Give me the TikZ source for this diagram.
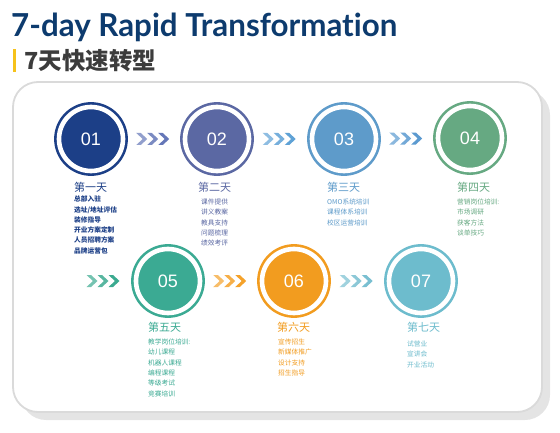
\documentclass[tikz,border=0pt]{standalone}
\usepackage{fontspec}
\setmainfont{Liberation Sans}
\newfontfamily\cjk{Noto Sans CJK SC}
\newfontfamily\titlefnt{Lato}[Ligatures={NoCommon,NoContextual}]
\usetikzlibrary{calc}
\definecolor{cA}{HTML}{1C3F87}
\definecolor{cB}{HTML}{5B68A3}
\definecolor{cC}{HTML}{5E9BCA}
\definecolor{cD}{HTML}{66A982}
\definecolor{cE}{HTML}{3BAA93}
\definecolor{cF}{HTML}{F29C1F}
\definecolor{cG}{HTML}{6DBCCD}
\definecolor{kA}{HTML}{6577B8}
\definecolor{kB}{HTML}{5FA2D6}
\definecolor{kC}{HTML}{5B9AD0}
\definecolor{kD}{HTML}{3BAA90}
\definecolor{kE}{HTML}{F5A22A}
\definecolor{kF}{HTML}{79BFD1}
\definecolor{titleblue}{HTML}{0D3B6E}
\definecolor{subgrey}{HTML}{3C3C3C}
\definecolor{baryellow}{HTML}{F6C21B}
\definecolor{panelline}{HTML}{DADADA}
\definecolor{panelshadow}{HTML}{E4E4E4}
\tikzset{
  stepcirc/.style={circle, minimum size=64pt, inner sep=0pt, fill=#1, draw=#1,
    line width=2.6pt, double=white, double distance=4.6pt, text=white,
    font=\fontsize{18}{18}\selectfont},
  daylabel/.style={anchor=west, inner sep=0pt, text=#1, font=\cjk\fontsize{11}{11}\selectfont},
  itemlist/.style={anchor=north west, inner sep=0pt, align=left, text=#1,
    font=\cjk\fontsize{6.7}{10.3}\selectfont},
  chevs/.pic={
    \foreach \o/\op in {-16.5/0.7,-5.5/0.85,5.5/1}{
      \fill[fill opacity=\op] (\o,-6) -- ++(4.5,0) -- ++(6.5,6) -- ++(-6.5,6) -- ++(-4.5,0) -- ++(6.5,-6) -- cycle;
    }
  }
}
\begin{document}
\begin{tikzpicture}[x=1pt,y=-1pt]
\useasboundingbox (0,0) rectangle (560,433);
% title
\node[anchor=base west, inner sep=0pt, text=titleblue] (title) at (11,37)
  {\resizebox{386pt}{23.5pt}{\titlefnt\bfseries 7-day Rapid Transformation}};
\fill[baryellow] (12.5,49) rectangle (15.5,72);
\node[anchor=west, inner sep=0pt, text=subgrey, font=\cjk\bfseries\fontsize{23.5}{23.5}\selectfont] (sub) at (24,60.5) {7天快速转型};
% panel
\fill[panelshadow, rounded corners=25pt] (21,90) rectangle (550,420);
\draw[panelline, fill=white, line width=1.8pt, rounded corners=25pt] (13,82) rectangle (542,412);
% circles
\node[stepcirc=cA] (c1) at (91,139) {01};
\node[stepcirc=cB] (c2) at (217,139) {02};
\node[stepcirc=cC] (c3) at (344,139) {03};
\node[stepcirc=cD] (c4) at (470,138) {04};
\node[stepcirc=cE] (c5) at (168,281) {05};
\node[stepcirc=cF] (c6) at (294,281) {06};
\node[stepcirc=cG] (c7) at (421,281) {07};
\coordinate (in5) at (103,281);
% chevron connectors
\pic[fill=kA] at ($(c1)!0.49!(c2)$) {chevs};
\pic[fill=kB] at ($(c2)!0.49!(c3)$) {chevs};
\pic[fill=kC] at ($(c3)!0.49!(c4)$) {chevs};
\pic[fill=kD] at (in5) {chevs};
\pic[fill=kE] at ($(c5)!0.49!(c6)$) {chevs};
\pic[fill=kF] at ($(c6)!0.49!(c7)$) {chevs};
% day labels
\node[daylabel=cA] (d1) at (74,187) {第一天};
\node[daylabel=cB] (d2) at (198,187) {第二天};
\node[daylabel=cC] (d3) at (327,187) {第三天};
\node[daylabel=cD] (d4) at (457,187) {第四天};
\node[daylabel=cE] (d5) at (148,327) {第五天};
\node[daylabel=cF] (d6) at (277,327) {第六天};
\node[daylabel=cG] (d7) at (407,327) {第七天};
% item lists
\node[itemlist=cA, font=\cjk\bfseries\fontsize{6.7}{10.3}\selectfont] (l1) at (74,195.8)
  {总部入驻\\选址/地址评估\\装修指导\\开业方案定制\\人员招聘方案\\品牌运营包};
\node[itemlist=cB] (l2) at (201,198.8) {课件提供\\讲义教案\\教具支持\\问题梳理\\绩效考评};
\node[itemlist=cC] (l3) at (327,198.8) {OMO系统培训\\课程体系培训\\校区运营培训};
\node[itemlist=cD] (l4) at (457,198.8) {营销岗位培训:\\市场调研\\获客方法\\谈单技巧};
\node[itemlist=cE] (l5) at (148,338.8) {教学岗位培训:\\幼儿课程\\机器人课程\\编程课程\\等级考试\\竞赛培训};
\node[itemlist=cF] (l6) at (278,338.8) {宣传招生\\新媒体推广\\设计支持\\招生指导};
\node[itemlist=cG] (l7) at (407,340.8) {试营业\\宣讲会\\开业活动};
\end{tikzpicture}
\end{document}
